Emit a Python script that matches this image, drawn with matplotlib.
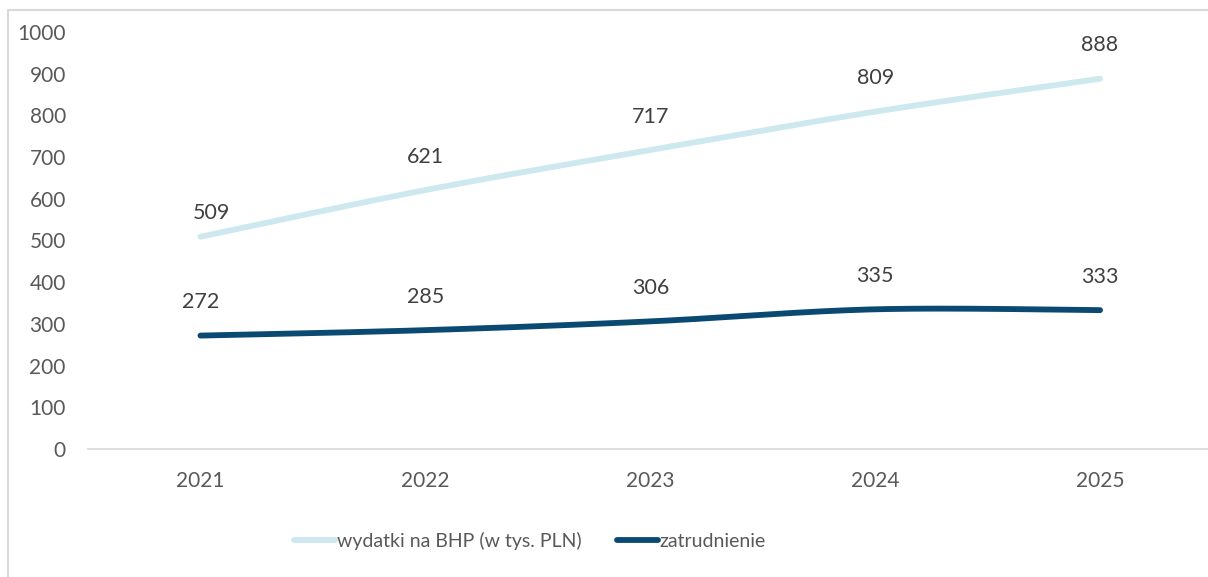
import numpy as np
import matplotlib
matplotlib.use("Agg")
import matplotlib.pyplot as plt
from matplotlib.lines import Line2D

years = ["2021", "2022", "2023", "2024", "2025"]
bhp = [509, 621, 717, 809, 888]
employment = [272, 285, 306, 335, 333]
series_names = ["wydatki na BHP (w tys. PLN)", "zatrudnienie"]

plt.rcParams['font.family'] = ['Lato', 'DejaVu Sans']
TXT = '#595959'
C_LIGHT = '#CDE8EE'
C_DARK = '#0A4A72'

W, H = 1208, 577
fig = plt.figure(figsize=(W / 100, H / 100), dpi=100)
fig.patch.set_facecolor('white')

ax = fig.add_axes([88 / W, (H - 449) / H, (1212.5 - 88) / W, 417 / H])


def smooth(xs, ys, n=40):
    pts = np.column_stack([xs, ys]).astype(float)
    P = np.vstack([pts[0], pts, pts[-1]])
    out = []
    t = np.linspace(0, 1, n)[:, None]
    for i in range(1, len(P) - 2):
        p0, p1, p2, p3 = P[i - 1], P[i], P[i + 1], P[i + 2]
        c1 = p1 + (p2 - p0) / 6
        c2 = p2 - (p3 - p1) / 6
        seg = ((1 - t) ** 3) * p1 + 3 * ((1 - t) ** 2) * t * c1 + 3 * (1 - t) * t ** 2 * c2 + t ** 3 * p2
        out.append(seg if i == 1 else seg[1:])
    s = np.vstack(out)
    return s[:, 0], s[:, 1]


x = np.arange(len(years))
for vals, col in [(bhp, C_LIGHT), (employment, C_DARK)]:
    sx, sy = smooth(x, vals)
    ax.plot(sx, sy, color=col, lw=4.2, solid_capstyle='round', zorder=3)

# data labels
label_offsets_bhp = [(8, 17), (0, 24), (0, 24), (0, 24), (0, 24)]
for i, v in enumerate(bhp):
    dx, dy = label_offsets_bhp[i]
    ax.annotate(str(v), (x[i], v), xytext=(dx, dy), textcoords='offset points',
                ha='center', va='center', fontsize=15.5, color='#404040')
for i, v in enumerate(employment):
    ax.annotate(str(v), (x[i], v), xytext=(0, 24), textcoords='offset points',
                ha='center', va='center', fontsize=15.5, color='#404040')

ax.set_xlim(-0.5, 4.5)
ax.set_ylim(0, 1000)
ax.set_yticks(range(0, 1001, 100))
ax.set_xticks(x)
ax.set_xticklabels(years)
for s in ['top', 'right', 'left']:
    ax.spines[s].set_visible(False)
ax.spines['bottom'].set_color('#D9D9D9')
ax.spines['bottom'].set_linewidth(1.2)
ax.tick_params(axis='both', length=0, labelsize=15, labelcolor=TXT)
ax.tick_params(axis='y', pad=16)
ax.tick_params(axis='x', pad=16)
ax.set_facecolor('none')

# outer chart border (top and left visible)
fig.add_artist(Line2D([8 / W, 1.01], [1 - 10 / H, 1 - 10 / H], transform=fig.transFigure,
                      color='#D9D9D9', lw=1.5))
fig.add_artist(Line2D([8 / W, 8 / W], [-0.01, 1 - 10 / H], transform=fig.transFigure,
                      color='#D9D9D9', lw=1.5))

handles = [Line2D([], [], color=C_LIGHT, lw=4.2, solid_capstyle='round'),
           Line2D([], [], color=C_DARK, lw=4.2, solid_capstyle='round')]
fig.legend(handles, series_names, loc='center', bbox_to_anchor=(530 / W, 1 - 541 / H),
           ncol=2, frameon=False, fontsize=14, labelcolor=TXT, handlelength=2.1,
           handletextpad=0.1, columnspacing=1.8)

fig.savefig('out.png', dpi=100, facecolor='white')
